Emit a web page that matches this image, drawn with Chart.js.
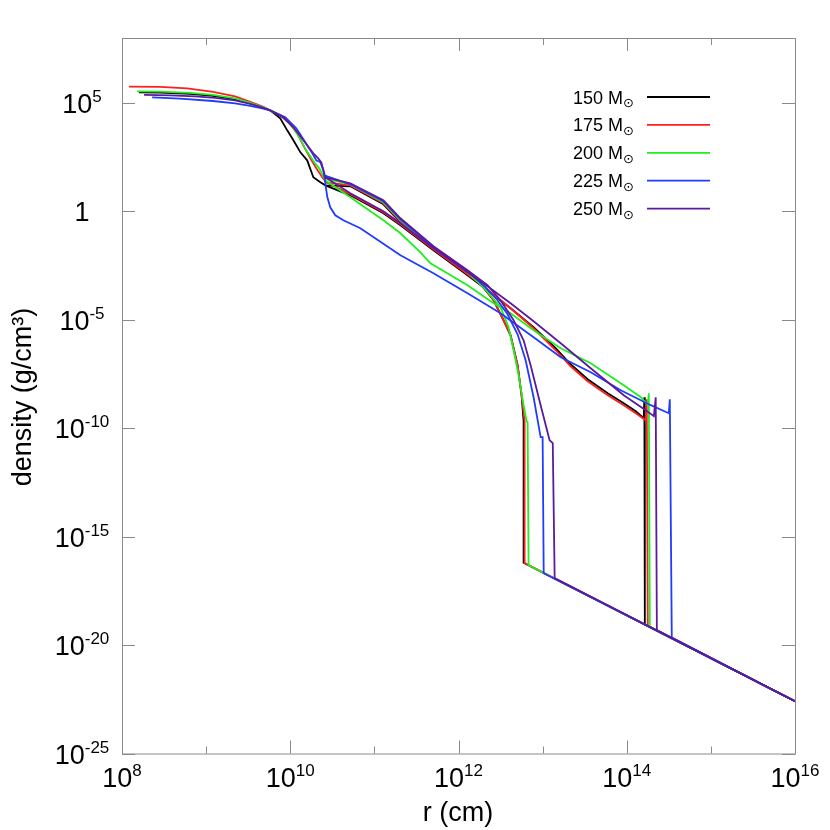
<!DOCTYPE html>
<html lang="en">
<head>
  <meta charset="UTF-8">
  <script src="https://cdn.jsdelivr.net/npm/chart.js"></script>
  <title>Density profiles</title>
  <style>
    body { margin: 0; padding: 0; background: #fff; }
    canvas { display: block; }
  </style>
</head>
<body>
<canvas id="densityChart" width="830" height="830"></canvas>

<script>
  // masses and colours (legend order)
  const massLabels = ['150', '175', '200', '225', '250'];
  const lineColors = ['#000000', '#ff1f1f', '#1fef1f', '#1f3cff', '#5c1a9e'];

  // [r (cm), density (g/cm^3)]
  // compact profiles: core -> envelope -> sharp edge -> wind
  const compact150 = [[1.59e8,3.11e5],[2.83e8,3.02e5],[6.45e8,2.65e5],[1.21e9,2.15e5],[2.21e9,1.48e5],[3.34e9,9.69e4],[4.64e9,6.34e4],[5.78e9,4.61e4],[7.60e9,1.97e4],[9.21e9,5.51e3],[1.09e10,1.91e3],[1.32e10,533],[1.59e10,228],[1.88e10,37.6],[2.28e10,22.1],[2.61e10,16.0],
    [5.18e10,14.5],[1.28e11,2.14],[2.04e11,0.316],[5.04e11,0.018],[1.28e12,1.26e-3],[1.83e12,4.38e-4],[2.61e12,8.02e-5],[3.43e12,9.59e-6],[4.16e12,1.95e-6],[5.04e12,8.07e-8],[5.62e12,3.34e-9],[5.94e12,2.11e-10],[5.94e12,6.3e-17],[1e16,2.6e-23]];
  const compact175 = [[1.21e8,5.70e5],[2.83e8,5.58e5],[5.94e8,4.76e5],[1.21e9,3.28e5],[2.21e9,2.04e5],[3.34e9,1.14e5],[4.64e9,7.05e4],[5.78e9,4.61e4],[7.60e9,2.71e4],[1.00e10,1.04e4],[1.21e10,4.01e3],[1.43e10,1.12e3],[1.73e10,282],[2.04e10,97.5],[2.40e10,37.6],[2.68e10,22.1],
    [5.18e10,16.0],[1.28e11,2.38],[2.04e11,0.352],[5.04e11,0.0200],[1.28e12,1.41e-3],[1.83e12,4.88e-4],[2.61e12,8.02e-5],[3.43e12,9.59e-6],[4.16e12,1.95e-6],[5.04e12,8.07e-8],[5.62e12,3.34e-9],[6.11e12,2.11e-10],[6.11e12,6.0e-17],[1e16,2.6e-23]];
  const compact200 = [[1.51e8,3.47e5],[2.83e8,3.36e5],[6.45e8,2.95e5],[1.21e9,2.39e5],[2.21e9,1.65e5],[3.34e9,1.02e5],[4.64e9,6.68e4],[5.78e9,4.61e4],[8.03e9,2.44e4],[1.06e10,8.43e3],[1.28e10,2.62e3],[1.55e10,659],[1.93e10,185],[2.21e10,97.5],[2.54e10,33.7],
    [5.18e10,17.9],[1.28e11,2.64],[2.04e11,0.391],[5.04e11,0.0222],[1.28e12,1.57e-3],[1.98e12,3.18e-4],[3.16e12,3.81e-5],[3.94e12,4.56e-6],[4.52e12,3.97e-7],[5.18e12,2.79e-8],[5.94e12,1.16e-9],[6.45e12,2.11e-10],[6.63e12,1.90e-10],[6.81e12,4.85e-17],[1e16,2.6e-23]];
  const compact225 = [[2.28e8,1.83e5],[4.90e8,1.60e5],[1.21e9,1.24e5],[2.21e9,9.69e4],[3.34e9,7.43e4],[4.64e9,5.70e4],[5.78e9,4.61e4],[8.72e9,2.19e4],[1.18e10,6.82e3],[1.51e10,1.54e3],[1.83e10,480],[2.04e10,228],[2.28e10,185],[2.47e10,78.9],[2.54e10,46.5],
    [5.18e10,17.9],[1.28e11,2.94],[2.04e11,0.435],[5.04e11,0.0222],[1.28e12,1.74e-3],[2.10e12,3.18e-4],[2.91e12,8.02e-5],[3.83e12,1.81e-5],[5.04e12,2.17e-6],[6.28e12,1.37e-7],[7.81e12,2.70e-9],[9.47e12,3.87e-11],[1.00e13,3.87e-11],[1.03e13,2.07e-17],[1e16,2.6e-23]];
  const compact250 = [[1.83e8,2.39e5],[3.73e8,2.26e5],[7.40e8,2.04e5],[1.28e9,1.74e5],[2.21e9,1.33e5],[3.34e9,9.19e4],[4.64e9,6.34e4],[5.78e9,4.61e4],[8.25e9,2.19e4],[1.09e10,7.59e3],[1.43e10,1.91e3],[1.88e10,480],[2.15e10,282],[2.34e10,185],[2.61e10,37.6],
    [5.18e10,19.9],[1.28e11,3.27],[2.04e11,0.483],[5.04e11,0.0247],[1.28e12,1.94e-3],[2.21e12,3.94e-4],[3.16e12,8.02e-5],[4.52e12,9.59e-6],[5.94e12,1.15e-6],[7.20e12,8.07e-8],[9.47e12,1.16e-9],[1.21e13,2.81e-11],[1.32e13,2.05e-11],[1.39e13,1.22e-17],[1e16,2.6e-23]];

  // extended profiles: branch off the core, edge spike, drop to wind
  const extended150 = [[2.61e10,16.0],[5.18e10,5.56],[1.28e11,0.822],[2.04e11,0.230],[5.04e11,0.0162],[1.28e12,1.14e-3],[1.98e12,3.18e-4],[4.16e12,3.43e-5],[7.81e12,4.56e-6],[1.43e13,4.91e-7],[2.15e13,8.97e-8],[3.43e13,1.83e-8],[5.94e13,4.13e-9],[9.21e13,1.43e-9],[1.28e14,6.11e-10],[1.59e14,2.91e-10],[1.62e14,2.70e-9],[1.64e14,9.2e-20],[1e16,2.6e-23]];
  const extended175 = [[2.68e10,22.1],[5.18e10,6.18],[1.28e11,0.914],[2.04e11,0.256],[5.04e11,0.0180],[1.28e12,1.26e-3],[1.98e12,3.54e-4],[4.16e12,3.43e-5],[7.81e12,4.10e-6],[1.43e13,3.97e-7],[2.15e13,7.26e-8],[3.43e13,1.48e-8],[5.94e13,3.34e-9],[9.21e13,1.16e-9],[1.28e14,4.94e-10],[1.68e14,2.35e-10],[1.73e14,2.18e-9],[1.78e14,7.8e-20],[1e16,2.6e-23]];
  const extended200 = [[2.54e10,33.7],[2.61e10,27.3],[5.18e10,4.49],[1.28e11,0.391],[2.04e11,0.0984],[3.53e11,0.0131],[4.64e11,4.07e-3],[1.28e12,3.94e-4],[2.61e12,5.82e-5],[4.16e12,2.01e-5],[7.81e12,3.32e-6],[1.64e13,4.91e-7],[3.73e13,1.0e-7],[9.21e13,9.66e-9],[1.47e14,2.70e-9],[1.78e14,1.16e-9],[1.83e14,4.13e-9],[1.88e14,7.0e-20],[1e16,2.6e-23]];
  const extended225 = [[2.54e10,46.5],[2.61e10,19.9],[2.76e10,4.49],[2.99e10,1.55],[3.43e10,0.665],[4.28e10,0.391],[6.81e10,0.167],[2.04e11,9.51e-3],[5.04e11,1.41e-3],[1.28e12,1.68e-4],[3.16e12,2.01e-5],[7.81e12,1.58e-6],[1.64e13,1.89e-7],[3.73e13,3.84e-8],[8.48e13,5.68e-9],[1.93e14,1.16e-9],[3.16e14,4.94e-10],[3.25e14,2.18e-9],[3.43e14,2.25e-20],[1e16,2.6e-23]];
  const extended250 = [[2.61e10,37.6],[5.18e10,6.87],[1.28e11,1.02],[2.04e11,0.284],[5.04e11,0.0200],[1.28e12,1.57e-3],[2.21e12,3.54e-4],[4.16e12,5.82e-5],[7.81e12,8.63e-6],[1.64e13,8.34e-7],[3.73e13,5.87e-8],[9.21e13,3.34e-9],[1.68e14,6.79e-10],[2.10e14,3.60e-10],[2.21e14,2.70e-9],[2.28e14,4.89e-20],[1e16,2.6e-23]];

  // tick exponents
  const xTickExps = [8, 9, 10, 11, 12, 13, 14, 15, 16];
  const xLabelExps = ['8', '10', '12', '14', '16'];
  const yLabelExps = ['5', '0', '-5', '-10', '-15', '-20', '-25'];

  const compactSets = [compact150, compact175, compact200, compact225, compact250];
  const extendedSets = [extended150, extended175, extended200, extended225, extended250];

  const FONT = '"Liberation Sans", Arial, sans-serif';

  const datasets = [];
  massLabels.forEach((m, i) => {
    [compactSets[i], extendedSets[i]].forEach((arr) => {
      datasets.push({
        label: m + ' M',
        data: arr.map(([x, y]) => ({ x, y })),
        borderColor: lineColors[i],
        borderWidth: 1.8,
        pointRadius: 0,
        showLine: true,
        fill: false,
        order: 4 - i, // purple on top
      });
    });
  });

  function drawPow(ctx, exp, cx, baseline) {
    ctx.textAlign = 'left';
    ctx.textBaseline = 'alphabetic';
    ctx.font = '27px ' + FONT;
    if (exp === '0') {
      const w = ctx.measureText('1').width;
      ctx.fillText('1', cx - w / 2, baseline);
      return;
    }
    const w1 = ctx.measureText('10').width;
    ctx.font = '17px ' + FONT;
    const w2 = ctx.measureText(exp).width;
    const start = cx - (w1 + w2) / 2;
    ctx.font = '27px ' + FONT;
    ctx.fillText('10', start, baseline);
    ctx.font = '17px ' + FONT;
    ctx.fillText(exp, start + w1, baseline - 11);
  }

  // frame, inward ticks, labels, titles and legend
  const decorations = {
    id: 'decorations',
    afterDraw(chart) {
      const { ctx, chartArea: a, scales: { x, y } } = chart;
      ctx.save();
      ctx.strokeStyle = '#8a8a8a';
      ctx.lineWidth = 1;
      ctx.strokeRect(a.left + 0.5, a.top + 0.5, a.right - a.left, a.bottom - a.top);

      ctx.beginPath();
      xTickExps.forEach((e) => {
        const px = Math.round(x.getPixelForValue(Math.pow(10, e))) + 0.5;
        const len = e % 2 === 0 ? 13 : 7;
        ctx.moveTo(px, a.bottom); ctx.lineTo(px, a.bottom - len);
        ctx.moveTo(px, a.top); ctx.lineTo(px, a.top + len);
      });
      yLabelExps.forEach((e) => {
        const py = Math.round(y.getPixelForValue(Math.pow(10, +e))) + 0.5;
        ctx.moveTo(a.left, py); ctx.lineTo(a.left + 13, py);
        ctx.moveTo(a.right, py); ctx.lineTo(a.right - 13, py);
      });
      ctx.stroke();

      ctx.fillStyle = '#000';
      xLabelExps.forEach((e) => {
        drawPow(ctx, e, x.getPixelForValue(Math.pow(10, +e)), 787);
      });
      yLabelExps.forEach((e) => {
        drawPow(ctx, e, 82, y.getPixelForValue(Math.pow(10, +e)) + 10);
      });

      // axis titles
      ctx.font = '27px ' + FONT;
      ctx.textAlign = 'center';
      ctx.fillText('r (cm)', 458, 821);
      ctx.save();
      ctx.translate(31, 397);
      ctx.rotate(-Math.PI / 2);
      ctx.fillText('density (g/cm\u00b3)', 0, 0);
      ctx.restore();

      // legend
      massLabels.forEach((m, i) => {
        const rowY = 97 + i * 27.9;
        ctx.font = '13px "DejaVu Sans", sans-serif';
        ctx.textAlign = 'left';
        const wSun = ctx.measureText('\u2299').width;
        ctx.fillText('\u2299', 634 - wSun, rowY + 10);
        ctx.font = '18px ' + FONT;
        ctx.textAlign = 'right';
        ctx.fillText(m + ' M', 634 - wSun, rowY + 6.5);
        ctx.strokeStyle = lineColors[i];
        ctx.lineWidth = 1.8;
        ctx.beginPath();
        ctx.moveTo(647, rowY); ctx.lineTo(710, rowY);
        ctx.stroke();
      });
      ctx.restore();
    }
  };

  new Chart(document.getElementById('densityChart'), {
    type: 'scatter',
    data: { datasets },
    options: {
      responsive: false,
      animation: false,
      layout: { padding: { top: 38, right: 35, left: 0, bottom: 0 } },
      plugins: { legend: { display: false }, tooltip: { enabled: false } },
      elements: { line: { tension: 0 } },
      scales: {
        x: {
          type: 'logarithmic',
          min: 1e8,
          max: 1e16,
          grid: { display: false },
          border: { display: false },
          ticks: { display: false },
          afterFit: (s) => { s.height = 76.5; },
        },
        y: {
          type: 'logarithmic',
          min: 1e-25,
          max: 1e8,
          grid: { display: false },
          border: { display: false },
          ticks: { display: false },
          afterFit: (s) => { s.width = 122; },
        },
      },
    },
    plugins: [decorations],
  });
</script>
</body>
</html>
